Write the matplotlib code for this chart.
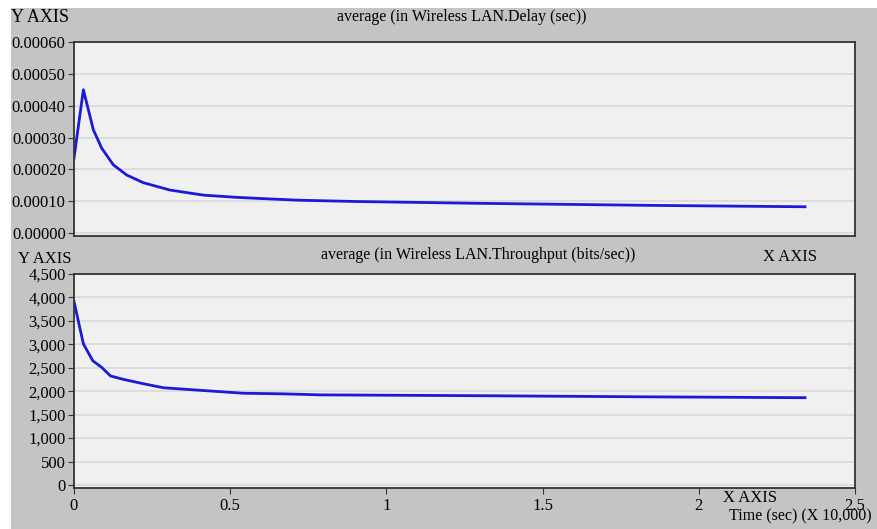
import numpy as np
import matplotlib.pyplot as plt
from matplotlib.ticker import FuncFormatter
from matplotlib.patches import Rectangle

# values (time in units of 10,000 s)
delay_t = [0.0, 0.030, 0.062, 0.089, 0.126, 0.169, 0.222, 0.307, 0.414, 0.521,
           0.627, 0.723, 0.90, 1.285, 1.846, 2.34]
delay_v = [0.000235, 0.00045, 0.000324, 0.000266, 0.000214, 0.000182, 0.000158,
           0.000135, 0.000119, 0.000112, 0.000107, 0.000103, 0.000099, 0.0000934,
           0.0000868, 0.0000824]

thr_t = [0.0, 0.03, 0.06, 0.089, 0.117, 0.158, 0.222, 0.286, 0.414, 0.542, 0.67,
         0.79, 1.285, 1.846, 2.34]
thr_v = [3913, 3011, 2650, 2506, 2325, 2253, 2160, 2074, 2015, 1957, 1944,
         1922, 1905, 1880, 1862]

delay_ticks = [0, 0.0001, 0.0002, 0.0003, 0.0004, 0.0005, 0.0006]
thr_ticks = [0, 500, 1000, 1500, 2000, 2500, 3000, 3500, 4000, 4500]
x_ticks = [0, 0.5, 1, 1.5, 2, 2.5]
x_labels = ['0', '0.5', '1', '1.5', '2', '2.5']

plt.rcParams['font.family'] = ['Liberation Serif', 'DejaVu Serif']
bg = '#c4c4c4'
panel = '#f0f0f0'
blue = '#1a1ad8'

fig = plt.figure(figsize=(8.77, 5.29), dpi=100, facecolor='white')
fig.patches.append(Rectangle((11 / 877, 0), 1, 1 - 8 / 529, transform=fig.transFigure,
                             facecolor=bg, edgecolor='none', zorder=-10))

ax1 = fig.add_axes([74 / 877, 1 - 236 / 529, 781 / 877, 194 / 529])
ax2 = fig.add_axes([74 / 877, 1 - 488 / 529, 781 / 877, 214 / 529])

for ax in (ax1, ax2):
    ax.set_facecolor(panel)
    ax.set_xlim(0, 2.5)
    ax.grid(axis='y', color='#d9d9d9', linewidth=1.2)
    ax.set_axisbelow(True)
    for s in ax.spines.values():
        s.set_color('#333333')
        s.set_linewidth(1.3)
    ax.tick_params(axis='y', labelsize=12, length=4, color='#333333', pad=2)

ax1.plot(delay_t, delay_v, color=blue, linewidth=2)
ax1.set_ylim(-0.0000094, 0.0006)
ax1.set_yticks(delay_ticks)
ax1.yaxis.set_major_formatter(FuncFormatter(lambda v, p: f'{v:.5f}'))
ax1.set_xticks([])

ax2.plot(thr_t, thr_v, color=blue, linewidth=2)
ax2.set_ylim(-64, 4500)
ax2.set_yticks(thr_ticks)
ax2.yaxis.set_major_formatter(FuncFormatter(lambda v, p: f'{int(v):,}'))
ax2.set_xticks(x_ticks)
ax2.set_xticklabels(x_labels)
ax2.tick_params(axis='x', labelsize=12, length=4, color='#333333', pad=3)

fig.text(11 / 877, 1 - 17 / 529, 'Y AXIS', fontsize=13, va='center', ha='left')
fig.text(462 / 877, 1 - 17 / 529, 'average (in Wireless LAN.Delay (sec))', fontsize=11.5,
         va='center', ha='center')
fig.text(18 / 877, 1 - 259 / 529, 'Y AXIS', fontsize=12, va='center', ha='left')
fig.text(478 / 877, 1 - 255 / 529, 'average (in Wireless LAN.Throughput (bits/sec))',
         fontsize=11.5, va='center', ha='center')
fig.text(790 / 877, 1 - 257 / 529, 'X AXIS', fontsize=12, va='center', ha='center')
fig.text(750 / 877, 1 - 498 / 529, 'X AXIS', fontsize=12, va='center', ha='center')
fig.text(800 / 877, 1 - 516 / 529, 'Time (sec) (X 10,000)', fontsize=11.5, va='center',
         ha='center')

fig.savefig('out.png', dpi=100, facecolor=fig.get_facecolor())
